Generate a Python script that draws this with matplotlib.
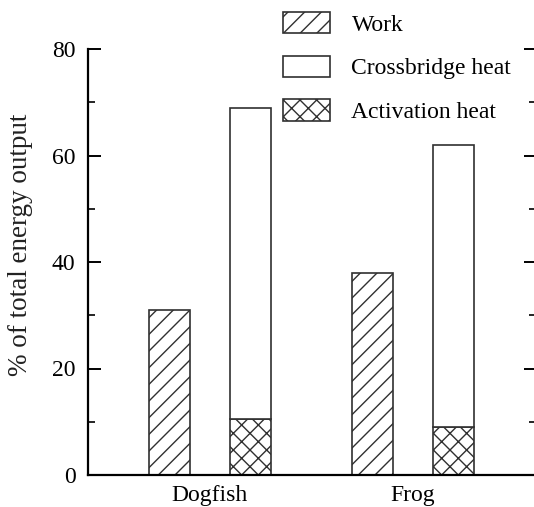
import matplotlib
matplotlib.use('Agg')
import matplotlib.pyplot as plt
import numpy as np

# datos
especies = ['Dogfish', 'Frog']
trabajo = [31, 38]
calor_activacion = [10.5, 9]
calor_puentes = [58.5, 53]

plt.rcParams['font.family'] = ['Liberation Serif', 'DejaVu Serif']
plt.rcParams['hatch.linewidth'] = 1.0

fig = plt.figure(figsize=(5.34, 5.07), dpi=100)
ax = fig.add_axes([88 / 534, 32 / 507, 448 / 534, 426 / 507])

x = np.arange(len(especies))
ancho = 0.2
borde = '#303030'

b1 = ax.bar(x - 0.2, trabajo, ancho, color='white', edgecolor=borde,
            hatch='//', linewidth=1.2, label='Work')
b3 = ax.bar(x + 0.2, calor_activacion, ancho, color='white', edgecolor=borde,
            hatch='xx', linewidth=1.2, label='Activation heat')
b2 = ax.bar(x + 0.2, calor_puentes, ancho, bottom=calor_activacion, color='white',
            edgecolor=borde, linewidth=1.2, label='Crossbridge heat')

ax.set_xlim(-0.6, 1.606)
ax.set_ylim(0, 80)
ax.set_xticks(x)
ax.set_xticklabels(especies)
ax.set_yticks([0, 20, 40, 60, 80])
ax.set_yticks([10, 30, 50, 70], minor=True)

ax.spines['top'].set_visible(False)
ax.spines['right'].set_visible(False)
ax.spines['left'].set_linewidth(1.6)
ax.spines['bottom'].set_linewidth(1.6)

ax.tick_params(axis='x', length=0, pad=7, labelsize=17)
ax.tick_params(axis='y', which='major', direction='in', length=9, width=1.4,
               pad=9, labelsize=17, right=True)
ax.tick_params(axis='y', which='minor', direction='in', length=5, width=1.2,
               right=True)

ax.set_ylabel('% of total energy output', fontsize=19.5, color='#222222')
ax.yaxis.set_label_coords(-0.122, 0.54)

ax.legend([b1, b2, b3], ['Work', 'Crossbridge heat', 'Activation heat'],
          loc='upper left', bbox_to_anchor=(283 / 534, 1 - 12 / 507),
          bbox_transform=fig.transFigure, frameon=False, fontsize=17,
          handlelength=2.0, handleheight=1.0, handletextpad=0.9,
          labelspacing=0.85, borderpad=0, borderaxespad=0)

fig.savefig('out.png', dpi=100)
